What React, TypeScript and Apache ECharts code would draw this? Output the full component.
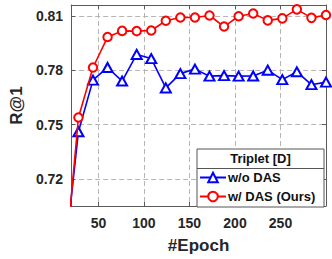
import React, { useEffect, useRef } from "react";
import * as echarts from "echarts";

const epochs = [12, 28, 44, 60, 76, 92, 108, 124, 140, 156, 172, 188, 204, 220, 236, 252, 268, 284, 300];
const woDAS = [0.672, 0.746, 0.7745, 0.7815, 0.774, 0.7887, 0.7864, 0.7702, 0.7781, 0.7806, 0.7767, 0.777, 0.7767, 0.7768, 0.78, 0.7748, 0.7791, 0.772, 0.7734];
const wDAS = [0.665, 0.7539, 0.7815, 0.7983, 0.8017, 0.8016, 0.8019, 0.8073, 0.8091, 0.8091, 0.8102, 0.8041, 0.8098, 0.8113, 0.8075, 0.8086, 0.8136, 0.8089, 0.8105];
const seriesNames = ["w/o DAS", "w/ DAS (Ours)"];
const legendTitle = "Triplet [D]";
const xName = "#Epoch";
const yName = "R@1";

const FONT = "'Liberation Sans', Arial, Helvetica, sans-serif";
const TXT = "#262626";
const AXIS = "#5a5a5a";

export default function App() {
  const ref = useRef<HTMLDivElement>(null);
  useEffect(() => {
    if (!ref.current) return;
    const chart = echarts.init(ref.current, null, { renderer: "svg" });
    const axisCommon = {
      type: "value" as const,
      axisLine: { show: true, onZero: false, lineStyle: { color: AXIS, width: 1 } },
      axisTick: { show: true, inside: true, length: 4, lineStyle: { color: AXIS } },
    };
    chart.setOption({
      animation: false,
      textStyle: { fontFamily: FONT },
      grid: { left: 58, right: 6, top: 5, bottom: 50, containLabel: false },
      xAxis: [
        {
          ...axisCommon,
          position: "bottom",
          min: 20,
          max: 300,
          splitNumber: 5,
          axisLabel: {
            show: true,
            margin: 10,
            fontSize: 14,
            fontWeight: "bold",
            color: TXT,
            fontFamily: FONT,
            showMinLabel: false,
            showMaxLabel: false,
          },
          splitLine: { show: true, lineStyle: { color: "#b5b5b5", type: [5, 3], width: 1 } },
          name: xName,
          nameLocation: "middle",
          nameGap: 31,
          nameTextStyle: { fontSize: 17, fontWeight: "bold", color: TXT, fontFamily: FONT },
        },
        {
          ...axisCommon,
          position: "top",
          min: 20,
          max: 300,
          splitNumber: 5,
          axisLabel: { show: false },
          splitLine: { show: false },
        },
      ],
      yAxis: [
        {
          ...axisCommon,
          position: "left",
          min: 0.705,
          max: 0.816,
          splitNumber: 4,
          axisLabel: {
            show: true,
            margin: 8,
            fontSize: 14,
            fontWeight: "bold",
            color: TXT,
            fontFamily: FONT,
            showMinLabel: false,
            showMaxLabel: false,
          },
          splitLine: { show: true, lineStyle: { color: "#b5b5b5", type: [5, 3], width: 1 } },
          name: yName,
          nameLocation: "middle",
          nameGap: 37,
          nameTextStyle: { fontSize: 17, fontWeight: "bold", color: TXT, fontFamily: FONT },
        },
        {
          ...axisCommon,
          position: "right",
          min: 0.705,
          max: 0.816,
          splitNumber: 4,
          axisLabel: { show: false },
          splitLine: { show: false },
        },
      ],
      legend: {
        show: true,
        orient: "vertical",
        left: 199,
        top: 171,
        padding: 0,
        itemWidth: 26,
        itemHeight: 12,
        itemGap: 6,
        z: 20,
        data: seriesNames,
        textStyle: { fontSize: 13, fontWeight: "bold", color: "#111", fontFamily: FONT, padding: [0, 0, 0, -3] },
      },
      graphic: [
        {
          type: "rect",
          z: 15,
          shape: { x: 197, y: 149, width: 127, height: 58 },
          style: { fill: "#fff", stroke: "#555", lineWidth: 1 },
        },
        {
          type: "line",
          z: 16,
          shape: { x1: 197, y1: 168.5, x2: 324, y2: 168.5 },
          style: { stroke: "#555", lineWidth: 1 },
        },
        {
          type: "text",
          z: 16,
          x: 260.5,
          y: 158.5,
          style: {
            text: legendTitle,
            align: "center",
            verticalAlign: "middle",
            fontSize: 13,
            fontWeight: "bold",
            fill: "#111",
            fontFamily: FONT,
          },
        },
      ],
      series: [
        {
          name: seriesNames[0],
          type: "line",
          data: epochs.map((e, i) => [e, woDAS[i]]),
          color: "#0000ff",
          symbol: "emptyTriangle",
          symbolSize: [10, 9],
          showAllSymbol: true,
          lineStyle: { width: 1.6, color: "#0000ff" },
          itemStyle: { color: "#0000ff", borderWidth: 1.5 },
          clip: true,
          z: 3,
        },
        {
          name: seriesNames[1],
          type: "line",
          data: epochs.map((e, i) => [e, wDAS[i]]),
          color: "#ff0000",
          symbol: "emptyCircle",
          symbolSize: 8.5,
          showAllSymbol: true,
          lineStyle: { width: 1.6, color: "#ff0000" },
          itemStyle: { color: "#ff0000", borderWidth: 1.5 },
          clip: true,
          z: 4,
        },
      ],
    });
    return () => chart.dispose();
  }, []);
  return (
    <div
      ref={ref}
      style={{ position: "fixed", left: 0, top: 0, width: 332, height: 259, background: "#fff" }}
    />
  );
}
